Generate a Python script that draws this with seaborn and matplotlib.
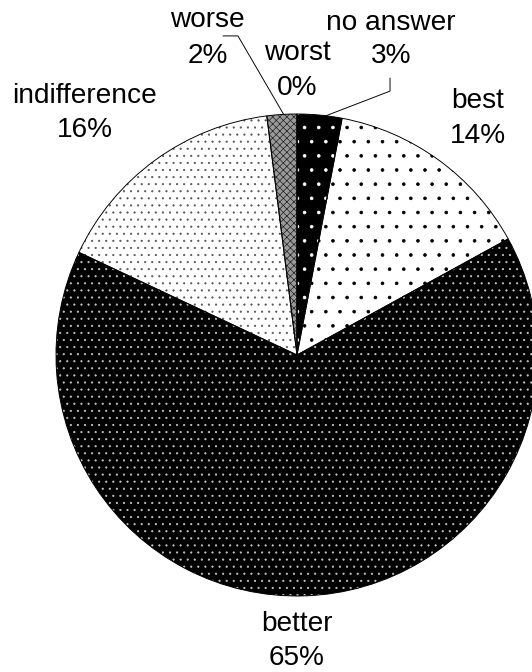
import matplotlib
matplotlib.use("Agg")
import matplotlib.pyplot as plt
import seaborn as sns

# survey answers, clockwise from 12 o'clock
answers = ["no answer", "best", "better", "indifference", "worse", "worst"]
shares = [3, 14, 65, 16, 2, 0]

# label baselines (two lines per answer), in pie-radius units
label_x = [0.39, 0.75, 0.0, -0.88, -0.37, 0.0]
label_y1 = [1.348, 1.025, -1.145, 1.046, 1.361, 1.224]
label_y2 = [1.212, 0.880, -1.286, 0.905, 1.212, 1.079]

sns.set_theme(style="white")
plt.rcParams["font.family"] = ["Liberation Sans", "DejaVu Sans"]
plt.rcParams["hatch.linewidth"] = 0.6

DPI = 85
fig = plt.figure(figsize=(532 / DPI, 672 / DPI), dpi=DPI)
ax = fig.add_axes([0, 0, 1, 1])

styles = {
    "no answer": dict(facecolor="black", edgecolor="white", hatch="."),
    "best": dict(facecolor="white", edgecolor="black", hatch="."),
    "better": dict(facecolor="black", edgecolor="#c8c8c8", hatch=".."),
    "indifference": dict(facecolor="white", edgecolor="#555555", hatch=".."),
    "worse": dict(facecolor="#9a9a9a", edgecolor="#222222", hatch="xxxx"),
    "worst": dict(facecolor="#9a9a9a", edgecolor="#222222", hatch="xxxx"),
}

wedges, _ = ax.pie(shares, startangle=90, counterclock=False, radius=1,
                   center=(0, 0), wedgeprops=dict(linewidth=0))
for w, name in zip(wedges, answers):
    st = styles[name]
    w.set_facecolor(st["facecolor"])
    w.set_edgecolor(st["edgecolor"])
    w.set_hatch(st["hatch"])
    w.set_linewidth(0)

# thin outline round the pie
ax.pie(shares, startangle=90, counterclock=False, radius=1, center=(0, 0),
       wedgeprops=dict(fill=False, edgecolor="black", linewidth=0.8))

fs = 23.7
for name, v, x, y1, y2 in zip(answers, shares, label_x, label_y1, label_y2):
    ax.text(x, y1, name, ha="center", va="baseline", fontsize=fs, color="black")
    ax.text(x, y2, f"{v}%", ha="center", va="baseline", fontsize=fs, color="black")

# leader lines for the two narrow slices near the top
ax.plot([-0.307, -0.245, -0.054], [1.324, 1.324, 0.996], color="black", lw=0.8)
ax.plot([0.386, 0.386, 0.108], [1.149, 1.095, 0.988], color="black", lw=0.8)

ax.set_xlim(-297 / 241, (532 - 297) / 241)
ax.set_ylim(-317 / 241, 355 / 241)
ax.set_aspect("auto")
ax.axis("off")

fig.savefig("out.png", dpi=DPI, facecolor="white")
